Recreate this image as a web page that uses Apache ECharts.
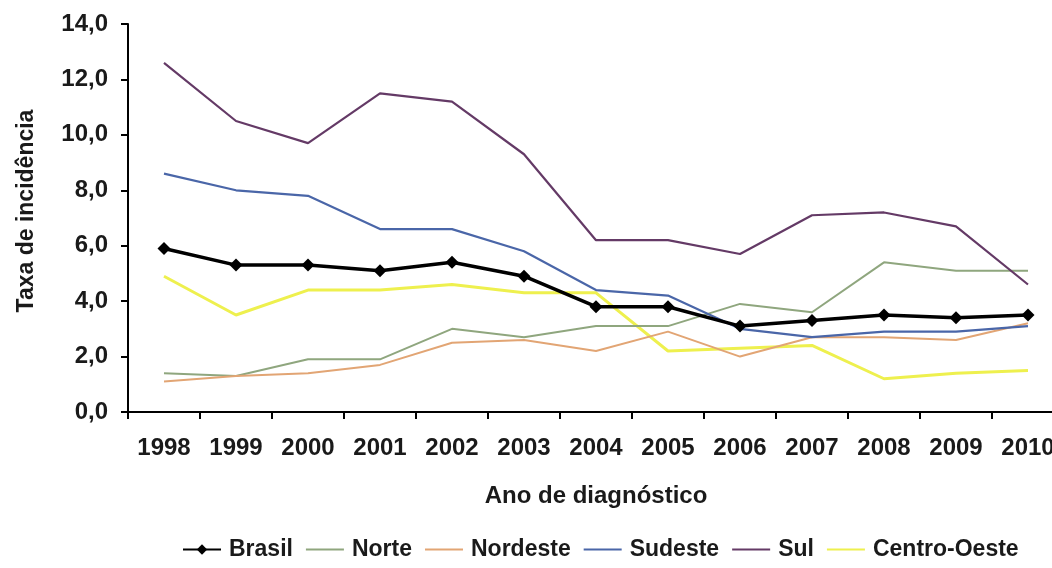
<!DOCTYPE html>
<html>
<head>
<meta charset="utf-8">
<script src="https://cdn.jsdelivr.net/npm/echarts@6/dist/echarts.min.js"></script>
<style>html,body{margin:0;padding:0;background:#fff;overflow:hidden;width:1052px;height:568px;}#c{width:1066px;height:568px;}</style>
</head>
<body>
<div id="c"></div>
<script>
const years = ['1998','1999','2000','2001','2002','2003','2004','2005','2006','2007','2008','2009','2010'];
const brasil = [5.9, 5.3, 5.3, 5.1, 5.4, 4.9, 3.8, 3.8, 3.1, 3.3, 3.5, 3.4, 3.5];
const norte = [1.4, 1.3, 1.9, 1.9, 3.0, 2.7, 3.1, 3.1, 3.9, 3.6, 5.4, 5.1, 5.1];
const nordeste = [1.1, 1.3, 1.4, 1.7, 2.5, 2.6, 2.2, 2.9, 2.0, 2.7, 2.7, 2.6, 3.2];
const sudeste = [8.6, 8.0, 7.8, 6.6, 6.6, 5.8, 4.4, 4.2, 3.0, 2.7, 2.9, 2.9, 3.1];
const sul = [12.6, 10.5, 9.7, 11.5, 11.2, 9.3, 6.2, 6.2, 5.7, 7.1, 7.2, 6.7, 4.6];
const centroOeste = [4.9, 3.5, 4.4, 4.4, 4.6, 4.3, 4.3, 2.2, 2.3, 2.4, 1.2, 1.4, 1.5];

const font = 'Liberation Sans';
const txt = '#1a1a1a';
const chart = echarts.init(document.getElementById('c'));
function line(name, data, color, width, z) {
  return {name, type: 'line', data, symbol: 'none', z,
    lineStyle: {color, width}, itemStyle: {color}};
}
const names = ['Brasil','Norte','Nordeste','Sudeste','Sul','Centro-Oeste'];
chart.setOption({
  animation: false,
  backgroundColor: '#fff',
  textStyle: {fontFamily: font},
  grid: {left: 128, right: 2, top: 24, bottom: 156, containLabel: false},
  legend: {
    bottom: 2, left: 177, itemWidth: 38, itemHeight: 13, itemGap: 12,
    textStyle: {fontFamily: font, fontSize: 23, color: txt, fontWeight: 'bold', padding: [0, 0, 0, 3]},
    data: names.map((n, i) => i === 0 ? {name: n} : {name: n, itemStyle: {opacity: 0}})
  },
  xAxis: {
    type: 'category', data: years, boundaryGap: true,
    name: 'Ano de diagnóstico', nameLocation: 'middle', nameGap: 72,
    nameTextStyle: {fontFamily: font, fontSize: 24, color: txt, fontWeight: 'bold'},
    axisLine: {lineStyle: {color: '#000', width: 2}},
    axisTick: {show: true, length: 7, lineStyle: {color: '#000', width: 2}},
    axisLabel: {fontFamily: font, fontSize: 24, color: txt, fontWeight: 'bold', margin: 24, interval: 0}
  },
  yAxis: {
    type: 'value', min: 0, max: 14, interval: 2,
    name: 'Taxa de incidência', nameLocation: 'middle', nameGap: 90, nameRotate: 90,
    nameTextStyle: {fontFamily: font, fontSize: 23, color: txt, fontWeight: 'bold', padding: [0, 0, 0, 14]},
    axisLine: {show: true, lineStyle: {color: '#000', width: 2}},
    axisTick: {show: true, length: 7, lineStyle: {color: '#000', width: 2}},
    splitLine: {show: false},
    axisLabel: {fontFamily: font, fontSize: 24, color: txt, fontWeight: 'bold', margin: 20,
      formatter: v => v.toFixed(1).replace('.', ',')}
  },
  series: [
    {name: 'Brasil', type: 'line', data: brasil, symbol: 'diamond', symbolSize: 13, z: 10,
      lineStyle: {color: '#000', width: 3.5}, itemStyle: {color: '#000'}},
    line('Norte', norte, '#8fa67e', 2, 3),
    line('Nordeste', nordeste, '#e2a574', 2, 3),
    line('Sudeste', sudeste, '#4a66a8', 2.2, 4),
    line('Sul', sul, '#643a66', 2.2, 4),
    line('Centro-Oeste', centroOeste, '#eef04e', 3, 2)
  ]
});
</script>
</body>
</html>
